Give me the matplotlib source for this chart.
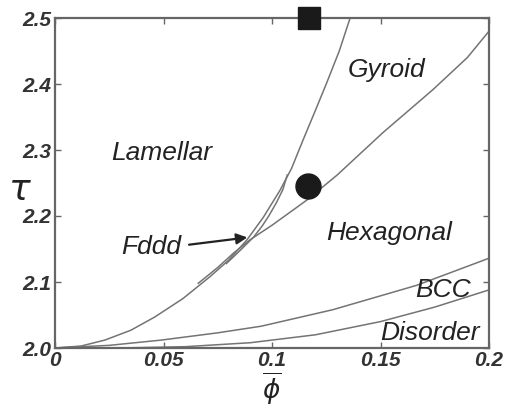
import matplotlib
matplotlib.use("Agg")
import matplotlib.pyplot as plt

# phase boundaries (phi, tau)
lam_phi = [0, 0.012, 0.023, 0.035, 0.046, 0.059, 0.0714, 0.080, 0.0885, 0.096,
           0.1037, 0.109, 0.1143, 0.120, 0.125, 0.131, 0.136]
lam_tau = [2.0, 2.003, 2.012, 2.027, 2.047, 2.075, 2.108, 2.133, 2.164, 2.198,
           2.239, 2.272, 2.315, 2.36, 2.40, 2.45, 2.5]

hex_phi = [0.066, 0.075, 0.082, 0.0899, 0.1, 0.1097, 0.116, 0.13, 0.151, 0.174, 0.19, 0.2]
hex_tau = [2.098, 2.122, 2.143, 2.164, 2.186, 2.209, 2.224, 2.262, 2.326, 2.391, 2.44, 2.48]

fddd_phi = [0.079, 0.086, 0.0915, 0.0955, 0.0985, 0.102, 0.105, 0.107]
fddd_tau = [2.128, 2.150, 2.168, 2.185, 2.200, 2.220, 2.240, 2.262]

bcc_phi = [0, 0.025, 0.049, 0.075, 0.095, 0.128, 0.1667, 0.2]
bcc_tau = [2.0, 2.004, 2.012, 2.023, 2.033, 2.058, 2.095, 2.136]

dis_phi = [0.03, 0.06, 0.09, 0.12, 0.15, 0.175, 0.2]
dis_tau = [2.0, 2.002, 2.008, 2.020, 2.040, 2.062, 2.088]

square = (0.117, 2.5)
circle = (0.1166, 2.245)

labels = ["Lamellar", "Gyroid", "Hexagonal", "BCC", "Disorder", "Fddd"]
label_pos = [(0.0493, 2.295), (0.153, 2.421), (0.154, 2.174), (0.179, 2.088),
             (0.1728, 2.023), (0.0442, 2.153)]

xticks = [0, 0.05, 0.1, 0.15, 0.2]
xticklabels = ["0", "0.05", "0.1", "0.15", "0.2"]
yticks = [2.0, 2.1, 2.2, 2.3, 2.4, 2.5]
yticklabels = ["2.0", "2.1", "2.2", "2.3", "2.4", "2.5"]

plt.rcParams['font.family'] = ['Liberation Sans', 'DejaVu Sans']

fig = plt.figure(figsize=(5.07, 4.09), dpi=100)
ax = fig.add_axes([55/507, 1-348/409, 434/507, 330/409])

lc = '#747474'
for xs, ys in [(lam_phi, lam_tau), (hex_phi, hex_tau), (fddd_phi, fddd_tau),
               (bcc_phi, bcc_tau), (dis_phi, dis_tau)]:
    ax.plot(xs, ys, color=lc, lw=1.1)

ax.plot([square[0]], [square[1]], 's', color='#1a1a1a', ms=16.5, clip_on=False, zorder=5)
ax.plot([circle[0]], [circle[1]], 'o', color='#1a1a1a', ms=18, zorder=5)

for t, (x, y) in zip(labels, label_pos):
    ax.text(x, y, t, fontsize=19, style='italic', color='#222222', ha='center', va='center')

ax.annotate("", xy=(0.0899, 2.168), xytext=(0.0605, 2.156),
            arrowprops=dict(arrowstyle='-|>', color='#222222', lw=1.6, mutation_scale=16))

ax.set_xlim(0, 0.2)
ax.set_ylim(2.0, 2.5)
ax.set_xticks(xticks)
ax.set_xticklabels(xticklabels)
ax.set_yticks(yticks)
ax.set_yticklabels(yticklabels)
ax.tick_params(direction='in', length=4, width=1, top=True, right=True, color='#666666',
               labelsize=15, labelcolor='#333333')
ax.tick_params(axis='x', pad=2)
ax.tick_params(axis='y', pad=3)
for lab in ax.get_xticklabels() + ax.get_yticklabels():
    lab.set_fontstyle('italic')
    lab.set_fontweight('bold')
for s in ax.spines.values():
    s.set_color('#666666')
    s.set_linewidth(1.6)

fig.text(272/507, 1-389/409, r'$\overline{\phi}$', fontsize=19, ha='center', va='center', color='#222222')
fig.text(20/507, 1-190/409, r'$\tau$', fontsize=26, ha='center', va='center', color='#222222')

fig.savefig("out.png", dpi=100)
